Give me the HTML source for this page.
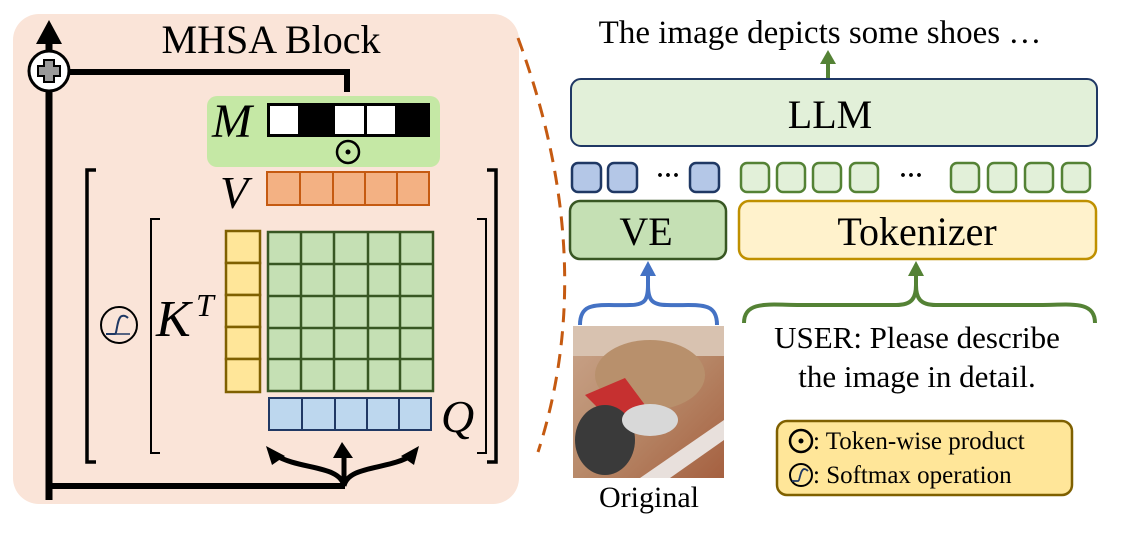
<!DOCTYPE html>
<html><head><meta charset="utf-8"><style>
html,body{margin:0;padding:0;background:#fff;}
svg{display:block;font-family:"Liberation Serif",serif;}
</style></head><body>
<svg width="1124" height="534" viewBox="0 0 1124 534" xmlns="http://www.w3.org/2000/svg">
<rect x="13" y="14" width="506" height="490" rx="26" fill="#fae4d8"/>
<text x="271" y="53" font-size="40" text-anchor="middle">MHSA Block</text>
<path d="M49 500 V40" stroke="#000" stroke-width="7" fill="none"/>
<polygon points="49,20 36,44 62,44" fill="#000"/>
<path d="M49 72 H347 V92" stroke="#000" stroke-width="6" fill="none"/>
<path d="M49 486 H345" stroke="#000" stroke-width="6" fill="none"/>
<circle cx="49" cy="71" r="20" fill="#fff" stroke="#000" stroke-width="3"/>
<path d="M44 60 h10 v6 h6 v10 h-6 v6 h-10 v-6 h-6 v-10 h6z" fill="#999" stroke="#000" stroke-width="2"/>
<path d="M344 486 V455" stroke="#000" stroke-width="5" fill="none"/>
<polygon points="342,442 333,458 353,458" fill="#000"/>
<path d="M344 486 C340 465 300 470 275 455" stroke="#000" stroke-width="5" fill="none"/>
<polygon points="266,446 272,465 285,456" fill="#000"/>
<path d="M344 486 C348 465 390 470 412 455" stroke="#000" stroke-width="5" fill="none"/>
<polygon points="419,446 414,465 401,456" fill="#000"/>
<rect x="207" y="96" width="233" height="71" rx="10" fill="#c5e8a5"/>
<text x="212" y="137" font-size="48" font-style="italic">M</text>
<rect x="267" y="103" width="163" height="34" fill="#000"/>
<rect x="270" y="106" width="28" height="28" fill="#fff"/>
<rect x="335" y="106" width="29" height="28" fill="#fff"/>
<rect x="367" y="106" width="28" height="28" fill="#fff"/>
<circle cx="348" cy="152" r="11" fill="none" stroke="#000" stroke-width="2.5"/>
<circle cx="348" cy="152" r="2.5" fill="#000"/>
<path d="M96 170 H87 V462 H96" stroke="#000" stroke-width="3.5" fill="none"/>
<path d="M487 170 H496 V462 H487" stroke="#000" stroke-width="3.5" fill="none"/>
<path d="M160 219 H151 V453 H160" stroke="#000" stroke-width="2" fill="none"/>
<path d="M477 219 H486 V453 H477" stroke="#000" stroke-width="2" fill="none"/>
<text x="220" y="208" font-size="46" font-style="italic">V</text>
<g fill="#f3b183" stroke="#c55a11" stroke-width="2">
<rect x="267" y="172" width="33" height="33"/><rect x="300" y="172" width="33" height="33"/><rect x="333" y="172" width="32" height="33"/><rect x="365" y="172" width="32" height="33"/><rect x="397" y="172" width="32" height="33"/>
</g>
<circle cx="119" cy="325" r="18" fill="none" stroke="#000" stroke-width="2"/>
<path d="M106 334 H115 C117 334 117 317 122 316 C125 315 127 317 128 318" stroke="#1f3864" stroke-width="2" fill="none"/>
<path d="M106 334 H130" stroke="#1f3864" stroke-width="1.5"/>
<text x="156" y="336" font-size="52" font-style="italic">K</text>
<text x="196" y="316" font-size="32" font-style="italic">T</text>
<g fill="#ffe699" stroke="#7f6000" stroke-width="2.5">
<rect x="226" y="231" width="34" height="32"/><rect x="226" y="263" width="34" height="32"/><rect x="226" y="295" width="34" height="32"/><rect x="226" y="327" width="34" height="32"/><rect x="226" y="359" width="34" height="33"/>
</g>
<rect x="268" y="232" width="165" height="159" fill="#c5e0b4" stroke="#385723" stroke-width="2.5"/>
<g stroke="#385723" stroke-width="2.5">
<line x1="301" y1="232" x2="301" y2="391"/><line x1="334" y1="232" x2="334" y2="391"/><line x1="368" y1="232" x2="368" y2="391"/><line x1="400" y1="232" x2="400" y2="391"/>
<line x1="268" y1="264" x2="433" y2="264"/><line x1="268" y1="296" x2="433" y2="296"/><line x1="268" y1="328" x2="433" y2="328"/><line x1="268" y1="359" x2="433" y2="359"/>
</g>
<g fill="#bdd7ee" stroke="#203864" stroke-width="2">
<rect x="269" y="398" width="33" height="32"/><rect x="302" y="398" width="33" height="32"/><rect x="335" y="398" width="32" height="32"/><rect x="367" y="398" width="32" height="32"/><rect x="399" y="398" width="32" height="32"/>
</g>
<text x="441" y="432" font-size="46" font-style="italic">Q</text>
<path d="M518 38 Q600 260 538 452" stroke="#c55a11" stroke-width="3" stroke-dasharray="14,9" fill="none"/>
<text x="820" y="43" font-size="33" text-anchor="middle">The image depicts some shoes …</text>
<path d="M828 79 V62" stroke="#548235" stroke-width="4"/>
<polygon points="828,50 820,64 836,64" fill="#548235"/>
<rect x="571" y="79" width="526" height="67" rx="10" fill="#e2f0d9" stroke="#1f3864" stroke-width="2"/>
<text x="830" y="128" font-size="40" text-anchor="middle">LLM</text>
<g fill="#b4c7e7" stroke="#1f3864" stroke-width="2.5">
<rect x="572" y="163" width="29" height="29" rx="6"/><rect x="608" y="163" width="29" height="29" rx="6"/><rect x="690" y="163" width="29" height="29" rx="6"/>
</g>
<text x="668" y="183" font-size="24" text-anchor="middle" font-weight="bold">···</text>
<g fill="#e2f0d9" stroke="#548235" stroke-width="2.5">
<rect x="741" y="163" width="28" height="29" rx="6"/><rect x="777" y="163" width="28" height="29" rx="6"/><rect x="813" y="163" width="28" height="29" rx="6"/><rect x="850" y="163" width="28" height="29" rx="6"/>
<rect x="951" y="163" width="28" height="29" rx="6"/><rect x="988" y="163" width="28" height="29" rx="6"/><rect x="1025" y="163" width="28" height="29" rx="6"/><rect x="1062" y="163" width="28" height="29" rx="6"/>
</g>
<text x="911" y="183" font-size="24" text-anchor="middle" font-weight="bold">···</text>
<rect x="570" y="201" width="156" height="58" rx="10" fill="#c5e0b4" stroke="#385723" stroke-width="2.5"/>
<text x="646" y="245" font-size="40" text-anchor="middle">VE</text>
<rect x="739" y="201" width="357" height="58" rx="10" fill="#fff2cc" stroke="#bf9000" stroke-width="2.5"/>
<text x="917" y="245" font-size="40" text-anchor="middle">Tokenizer</text>
<path d="M580 325 C580 300 600 306 630 305 C645 305 648 300 648 285 M648 285 C648 300 652 305 667 305 C697 306 717 300 717 325" stroke="#4472c4" stroke-width="4" fill="none"/>
<path d="M648 290 V272" stroke="#4472c4" stroke-width="4"/>
<polygon points="648,261 640,276 656,276" fill="#4472c4"/>
<path d="M744 323 C744 300 770 305 800 305 H896 C912 305 916 298 916 285 C916 298 920 305 936 305 H1040 C1070 305 1095 300 1095 323" stroke="#548235" stroke-width="4" fill="none"/>
<path d="M916 290 V272" stroke="#548235" stroke-width="4"/>
<polygon points="916,261 908,276 924,276" fill="#548235"/>
<defs><linearGradient id="pg" x1="0" y1="0" x2="1" y2="1"><stop offset="0" stop-color="#c9a48a"/><stop offset="0.5" stop-color="#b88a6a"/><stop offset="1" stop-color="#a56040"/></linearGradient></defs>
<rect x="573" y="326" width="151" height="152" fill="url(#pg)"/>
<rect x="573" y="326" width="151" height="30" fill="#d8c2b0"/>
<ellipse cx="650" cy="375" rx="55" ry="35" fill="#b8906c"/>
<path d="M585 395 L625 378 L645 405 L610 420 Z" fill="#c63030"/>
<ellipse cx="605" cy="440" rx="30" ry="35" fill="#3a3a3a"/>
<ellipse cx="650" cy="420" rx="28" ry="16" fill="#d8d8d8"/>
<path d="M640 478 L724 420 L724 440 L670 478Z" fill="#e8e0dc"/>
<text x="649" y="507" font-size="30" text-anchor="middle">Original</text>
<text x="917" y="348" font-size="31" text-anchor="middle">USER: Please describe</text>
<text x="917" y="387" font-size="31" text-anchor="middle">the image in detail.</text>
<rect x="777" y="421" width="295" height="74" rx="10" fill="#ffe699" stroke="#7f6000" stroke-width="2.5"/>
<circle cx="801" cy="441" r="11" fill="none" stroke="#000" stroke-width="2.5"/>
<circle cx="801" cy="441" r="2.5" fill="#000"/>
<text x="813" y="449" font-size="25">: Token-wise product</text>
<circle cx="801" cy="475" r="11" fill="none" stroke="#000" stroke-width="2"/>
<path d="M792 481 H798 C800 481 800 470 804 469 C806 469 807 470 808 471" stroke="#1f3864" stroke-width="1.8" fill="none"/>
<text x="813" y="483" font-size="25">: Softmax operation</text>
</svg>
</body></html>
